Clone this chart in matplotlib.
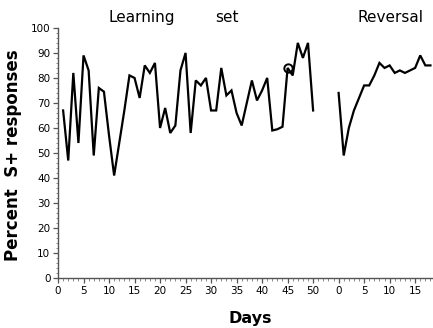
import matplotlib
matplotlib.use("Agg")
import matplotlib.pyplot as plt
from matplotlib.ticker import MultipleLocator, FixedLocator

# Learning-set sessions (days 1-50) and reversal sessions (days 0-18)
learning_days = list(range(1, 51))
learning_pct = [67, 47, 82, 54, 89, 83, 49, 76, 74.5, 57,
                41, 54, 67, 81, 80, 72, 85, 82, 86, 60,
                68, 58, 61, 83, 90, 58, 79, 77, 80, 67,
                67, 84, 73, 75, 66, 61, 70, 79, 71, 75,
                80, 59, 59.5, 60.5, 84, 81, 94, 88, 94, 67]
reversal_days = list(range(0, 19))
reversal_pct = [74, 49, 60, 67, 72, 77, 77, 81, 86, 84,
                85, 82, 83, 82, 83, 84, 89, 85, 85]
marked_day = 45
marked_pct = 84

reversal_offset = 55
x_tick_pos = [0, 5, 10, 15, 20, 25, 30, 35, 40, 45, 50, 55, 60, 65, 70]
x_tick_labels = ["0", "5", "10", "15", "20", "25", "30", "35", "40", "45", "50",
                 "0", "5", "10", "15"]
y_ticks = [0, 10, 20, 30, 40, 50, 60, 70, 80, 90, 100]

fig = plt.figure(figsize=(4.33, 3.28), dpi=100)
ax = fig.add_axes([0.134, 0.152, 0.866, 0.763])

ax.plot(learning_days, learning_pct, color="black", lw=1.6, solid_joinstyle="miter")
ax.plot([reversal_offset + d for d in reversal_days], reversal_pct,
        color="black", lw=1.6, solid_joinstyle="miter")
ax.plot([marked_day], [marked_pct], marker="o", ms=6, mfc="none", mec="black", mew=1.4)

ax.set_xlim(0, 73.5)
ax.set_ylim(0, 100)

ax.xaxis.set_major_locator(FixedLocator(x_tick_pos))
ax.set_xticklabels(x_tick_labels)
minor_x = [d for d in range(0, 74) if d not in x_tick_pos]
ax.xaxis.set_minor_locator(FixedLocator(minor_x))
ax.set_yticks(y_ticks)
ax.yaxis.set_minor_locator(MultipleLocator(2))

ax.tick_params(axis="both", which="major", direction="out", length=3.5, width=0.9,
               labelsize=7.5, pad=2, color="#555555")
ax.tick_params(axis="both", which="minor", direction="out", length=1.8, width=0.6,
               color="#777777")

for side in ["top", "right"]:
    ax.spines[side].set_visible(False)
for side in ["left", "bottom"]:
    ax.spines[side].set_linewidth(1.0)
    ax.spines[side].set_color("#555555")

ax.text(9.8, 104, "Learning", fontsize=11, ha="left", va="center", clip_on=False)
ax.text(30.8, 104, "set", fontsize=11, ha="left", va="center", clip_on=False)
ax.text(65.1, 104, "Reversal", fontsize=11, ha="center", va="center", clip_on=False)

ax.set_xlabel("Days", fontsize=11.5, fontweight="bold", labelpad=2)
ax.xaxis.set_label_coords((250 - 58) / 375, -0.13)
ax.set_ylabel("Percent  S+ responses", fontsize=12, fontweight="bold", labelpad=4)
ax.yaxis.set_label_coords(-0.095, 0.49)

fig.savefig("out.png", dpi=100)
